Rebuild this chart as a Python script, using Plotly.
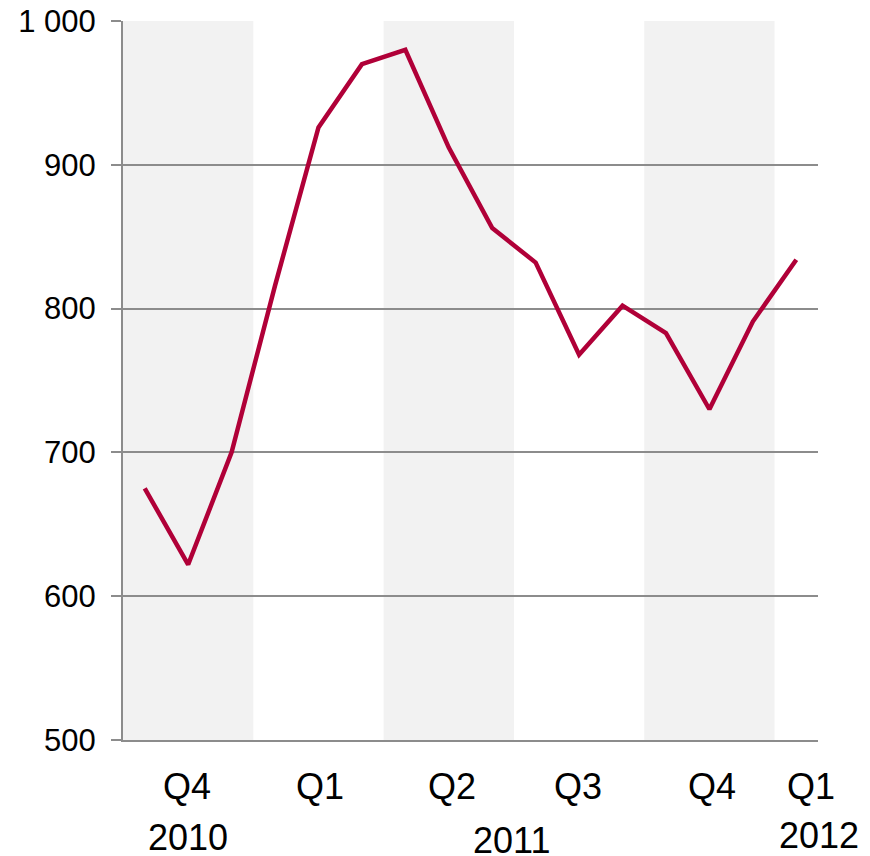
import plotly.graph_objects as go

# Monthly series, Oct 2010 .. Jan 2012
months = ["Oct 2010", "Nov 2010", "Dec 2010", "Jan 2011", "Feb 2011", "Mar 2011",
          "Apr 2011", "May 2011", "Jun 2011", "Jul 2011", "Aug 2011", "Sep 2011",
          "Oct 2011", "Nov 2011", "Dec 2011", "Jan 2012"]
values = [675, 622, 700, 816, 926, 970, 980, 912, 856, 832, 768, 802, 783, 730, 791, 834]

# Quarter labels (position in month index units)
quarter_labels = ["Q4", "Q1", "Q2", "Q3", "Q4", "Q1"]
quarter_pos = [0.97, 4.03, 7.07, 9.97, 13.06, 15.35]
year_labels = ["2010", "2011", "2012"]
year_pos = [1, 8.45, 15.45]
year_xshift = [0, 0, 3]
year_shift = [-97, -100, -95]

y_ticks = [500, 600, 700, 800, 900, 1000]
y_ticktext = ["500", "600", "700", "800", "900", "1 000"]

# Shaded quarters (start, end) in month index units
shaded = [(-0.5, 2.5), (5.5, 8.5), (11.5, 14.5)]

FONT = "Liberation Sans, Arial, sans-serif"
GRID = "#8c8c8c"
FS_Y = 31
FS_X = 36

x = list(range(len(values)))

fig = go.Figure()
fig.add_trace(go.Scatter(
    x=x, y=values, mode="lines",
    line=dict(color="#b00038", width=4.5),
    hovertext=months, hoverinfo="text+y",
))

for x0, x1 in shaded:
    fig.add_shape(type="rect", xref="x", yref="paper", x0=x0, x1=x1, y0=0, y1=1,
                  fillcolor="#f2f2f2", line_width=0, layer="below")

annotations = []
for lab, pos in zip(quarter_labels, quarter_pos):
    annotations.append(dict(x=pos, y=0, xref="x", yref="paper", text=lab, showarrow=False,
                            yanchor="middle", xanchor="center", yshift=-46,
                            font=dict(family=FONT, size=FS_X, color="#000")))
for lab, pos, xs, ys in zip(year_labels, year_pos, year_xshift, year_shift):
    annotations.append(dict(x=pos, y=0, xref="x", yref="paper", text=lab, showarrow=False,
                            yanchor="middle", xanchor="center", xshift=xs, yshift=ys,
                            height=30, valign="middle",
                            font=dict(family=FONT, size=FS_X, color="#000")))

fig.update_layout(
    width=870, height=856,
    margin=dict(l=123, r=52, t=21, b=116),
    plot_bgcolor="white", paper_bgcolor="white",
    showlegend=False,
    annotations=annotations,
    font=dict(family=FONT, size=FS_Y, color="#000"),
    xaxis=dict(range=[-0.5, 15.5], showgrid=False, zeroline=False,
               showticklabels=False, ticks="", automargin=False,
               showline=True, linecolor=GRID, linewidth=2),
    yaxis=dict(range=[500, 1000], tickvals=y_ticks, ticktext=y_ticktext,
               showgrid=True, gridcolor=GRID, gridwidth=2, zeroline=False,
               showline=True, linecolor=GRID, linewidth=2, automargin=False,
               ticks="outside", ticklen=10, tickwidth=2, tickcolor=GRID,
               ticklabelstandoff=9,
               tickfont=dict(family=FONT, size=FS_Y, color="#000")),
)

fig.write_html("out.html")
